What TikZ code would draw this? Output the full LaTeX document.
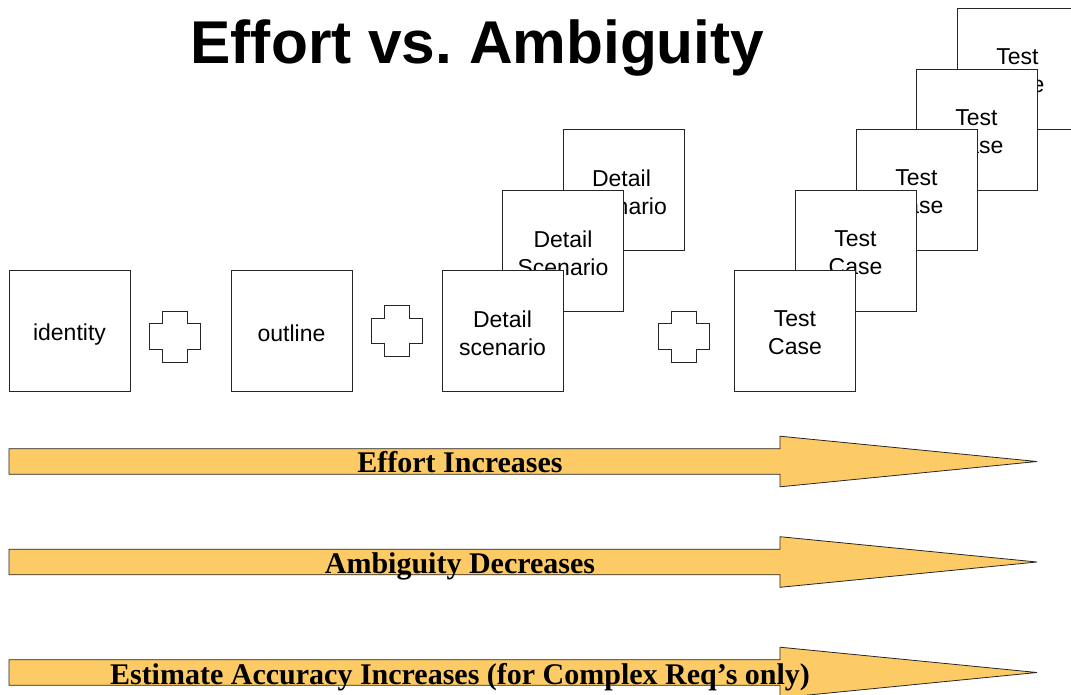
\documentclass[tikz,border=0pt]{standalone}
\usepackage{fontspec}
\setmainfont{Liberation Serif}
\setsansfont{Liberation Sans}
\definecolor{arrowfill}{HTML}{FDCB66}
\begin{document}
\begin{tikzpicture}[x=1pt,y=-1pt,
  card/.style={draw=black!85, line width=0.9pt, fill=white, minimum width=121pt, minimum height=121pt,
    inner sep=0pt},
  cardtext/.style={inner sep=0pt, align=center, yshift=-2.5pt, font=\sffamily\fontsize{23}{28}\selectfont},
  plusshape/.style={draw=black!85, line width=0.9pt, fill=white},
  bigarrow/.style={draw=black!85, line width=0.8pt, fill=arrowfill},
  arrowlabel/.style={anchor=base, inner sep=0pt, font=\rmfamily\bfseries\fontsize{30}{34}\selectfont}]
\useasboundingbox (0,0) rectangle (1071,694);
\clip (0,0) rectangle (1071,694);

% title
\node[anchor=base, inner sep=0pt, font=\sffamily\bfseries\fontsize{60.4}{70}\selectfont] (title) at (477.5,63) {Effort vs.\ Ambiguity};

% cards
\node[card, label={[cardtext, yshift=-1.5pt]center:identity}] (identity) at (69.5,330.5) {};
\node[card, label={[cardtext]center:outline}] (outline) at (291.5,330.5) {};

\node[card, label={[cardtext, xshift=-2pt]center:{Detail\\Scenario}}] (ds3) at (623.5,189.5) {};
\node[card, label={[cardtext]center:{Detail\\Scenario}}] (ds2) at (563,250.5) {};
\node[card, label={[cardtext]center:{Detail\\scenario}}] (ds1) at (502.5,330.5) {};

\node[card, label={[cardtext]center:{Test\\Case}}] (tc5) at (1017.5,68.5) {};
\node[card, label={[cardtext]center:{Test\\Case}}] (tc4) at (976.5,129.5) {};
\node[card, label={[cardtext]center:{Test\\Case}}] (tc3) at (916.5,189.5) {};
\node[card, label={[cardtext]center:{Test\\Case}}] (tc2) at (855.5,250.5) {};
\node[card, label={[cardtext]center:{Test\\Case}}] (tc1) at (795,330.5) {};

% plus signs
\foreach \cx/\cy in {175/336.5, 397/331, 684/336.5}{
  \draw[plusshape, shift={(\cx,\cy)}]
    (-12.8,-25.5) -- (12.8,-25.5) -- (12.8,-12.8) -- (25.5,-12.8) -- (25.5,12.8) -- (12.8,12.8)
    -- (12.8,25.5) -- (-12.8,25.5) -- (-12.8,12.8) -- (-25.5,12.8) -- (-25.5,-12.8) -- (-12.8,-12.8) -- cycle;
}

% big arrows
\foreach \cy in {461.5, 562, 672.5}{
  \draw[bigarrow] (9,\cy-12.8) -- (780,\cy-12.8) -- (780,\cy-25.3) -- (1037,\cy) -- (780,\cy+25.3)
    -- (780,\cy+12.8) -- (9,\cy+12.8) -- cycle;
}
\node[arrowlabel] (l1) at (460,472.5) {Effort Increases};
\node[arrowlabel] (l2) at (460,573.5) {Ambiguity Decreases};
\node[arrowlabel] (l3) at (460,684.5) {Estimate Accuracy Increases (for Complex Req’s only)};
\end{tikzpicture}
\end{document}
